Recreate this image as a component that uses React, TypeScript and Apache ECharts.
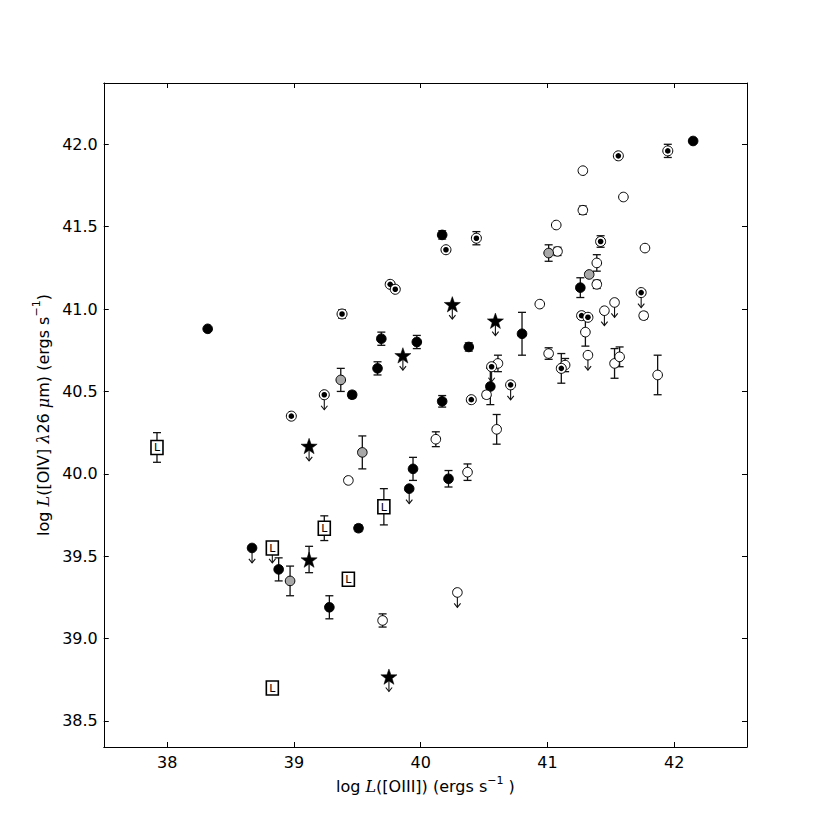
import React, { useEffect, useRef } from "react";
import * as echarts from "echarts";

// Each point: [log L([OIII]), log L([OIV]), symmetric error (dex), upper limit flag]
const filledPts: number[][] = [
  [38.32, 40.88, 0, 0],
  [40.17, 41.45, 0.025, 0],
  [39.69, 40.82, 0.04, 0],
  [39.97, 40.8, 0.04, 0],
  [39.66, 40.64, 0.04, 0],
  [39.46, 40.48, 0.02, 0],
  [40.38, 40.77, 0.025, 0],
  [40.8, 40.85, 0.13, 0],
  [40.55, 40.53, 0.11, 0],
  [40.17, 40.44, 0.035, 0],
  [41.26, 41.13, 0.06, 0],
  [42.15, 42.02, 0.01, 0],
  [39.94, 40.03, 0.07, 0],
  [39.91, 39.91, 0, 1],
  [40.22, 39.97, 0.05, 0],
  [39.51, 39.67, 0.02, 0],
  [38.67, 39.55, 0, 1],
  [38.88, 39.42, 0.07, 0],
  [39.28, 39.19, 0.07, 0],
];

const openPts: number[][] = [
  [41.07, 41.51, 0, 0],
  [41.08, 41.35, 0.025, 0],
  [40.94, 41.03, 0, 0],
  [41.28, 41.84, 0, 0],
  [41.6, 41.68, 0, 0],
  [41.28, 41.6, 0.025, 0],
  [41.77, 41.37, 0, 0],
  [41.39, 41.28, 0.05, 0],
  [41.39, 41.15, 0.025, 0],
  [41.53, 41.04, 0, 1],
  [41.45, 40.99, 0, 1],
  [41.76, 40.96, 0.02, 0],
  [41.3, 40.86, 0.085, 0],
  [41.32, 40.72, 0, 1],
  [41.53, 40.67, 0.09, 0],
  [41.57, 40.71, 0.06, 0],
  [41.87, 40.6, 0.12, 0],
  [41.14, 40.66, 0.04, 0],
  [41.01, 40.73, 0.035, 0],
  [40.61, 40.67, 0.05, 0],
  [40.52, 40.48, 0.02, 0],
  [40.6, 40.27, 0.09, 0],
  [40.12, 40.21, 0.045, 0],
  [39.43, 39.96, 0, 0],
  [40.37, 40.01, 0.05, 0],
  [39.7, 39.11, 0.04, 0],
  [40.29, 39.28, 0, 1],
];

const dottedPts: number[][] = [
  [39.38, 40.97, 0.025, 0],
  [39.76, 41.15, 0, 0],
  [39.8, 41.12, 0, 0],
  [40.2, 41.36, 0, 0],
  [40.44, 41.43, 0.04, 0],
  [41.95, 41.96, 0.04, 0],
  [41.56, 41.93, 0.01, 0],
  [41.42, 41.41, 0.035, 0],
  [41.74, 41.1, 0, 1],
  [41.27, 40.96, 0.015, 0],
  [41.32, 40.95, 0.015, 0],
  [41.11, 40.64, 0.09, 0],
  [40.56, 40.65, 0, 1],
  [40.71, 40.54, 0, 1],
  [40.4, 40.45, 0.015, 0],
  [38.98, 40.35, 0, 0],
  [39.24, 40.48, 0, 1],
];

const grayPts: number[][] = [
  [41.01, 41.34, 0.05, 0],
  [41.33, 41.21, 0, 0],
  [39.37, 40.57, 0.07, 0],
  [39.54, 40.13, 0.1, 0],
  [38.97, 39.35, 0.09, 0],
];

const starPts: number[][] = [
  [40.25, 41.03, 0, 1],
  [40.59, 40.93, 0, 1],
  [39.86, 40.72, 0, 1],
  [39.12, 40.17, 0, 1],
  [39.12, 39.48, 0.08, 0],
  [39.75, 38.77, 0, 1],
];

const boxLPts: number[][] = [
  [37.92, 40.16, 0.09, 0],
  [39.71, 39.8, 0.11, 0],
  [39.24, 39.67, 0.075, 0],
  [38.83, 39.55, 0, 1],
  [39.43, 39.36, 0, 0],
  [38.83, 38.7, 0, 0],
];

const xTicks = [38, 39, 40, 41, 42];
const yTicks = [38.5, 39.0, 39.5, 40.0, 40.5, 41.0, 41.5, 42.0];

const X_MIN = 37.5;
const X_MAX = 42.575;
const Y_MIN = 38.342;
const Y_MAX = 42.372;

const FONT = "DejaVu Sans";
const INK = "#000";

function barsRender(_params: any, api: any) {
  const x = api.value(0);
  const y = api.value(1);
  const err = api.value(2);
  const lim = api.value(3);
  const c = api.coord([x, y]);
  const st = { stroke: "#111", lineWidth: 1.3, fill: "none" };
  const children: any[] = [];
  if (err > 0) {
    const t = api.coord([x, y + err]);
    const b = api.coord([x, y - err]);
    children.push({ type: "line", shape: { x1: c[0], y1: t[1], x2: c[0], y2: b[1] }, style: st });
    children.push({ type: "line", shape: { x1: c[0] - 4, y1: t[1], x2: c[0] + 4, y2: t[1] }, style: st });
    children.push({ type: "line", shape: { x1: c[0] - 4, y1: b[1], x2: c[0] + 4, y2: b[1] }, style: st });
  }
  if (lim) {
    const st2 = { stroke: "#111", lineWidth: 1.1, fill: "none" };
    children.push({ type: "line", shape: { x1: c[0], y1: c[1], x2: c[0], y2: c[1] + 15 }, style: st2 });
    children.push({
      type: "polyline",
      shape: { points: [[c[0] - 3.2, c[1] + 11], [c[0], c[1] + 15], [c[0] + 3.2, c[1] + 11]] },
      style: st2,
    });
  }
  return { type: "group", children };
}

function markerRender(kind: string) {
  return function (_params: any, api: any) {
    const c = api.coord([api.value(0), api.value(1)]);
    const cx = c[0];
    const cy = c[1];
    const r = 4.8;
    if (kind === "filled") {
      return { type: "circle", shape: { cx, cy, r }, style: { fill: INK, stroke: INK, lineWidth: 1 } };
    }
    if (kind === "open") {
      return { type: "circle", shape: { cx, cy, r }, style: { fill: "#fff", stroke: INK, lineWidth: 1 } };
    }
    if (kind === "gray") {
      return { type: "circle", shape: { cx, cy, r }, style: { fill: "#a8a8a8", stroke: INK, lineWidth: 1 } };
    }
    if (kind === "dotted") {
      return {
        type: "group",
        children: [
          { type: "circle", shape: { cx, cy, r: 5 }, style: { fill: "#fff", stroke: INK, lineWidth: 1 } },
          { type: "circle", shape: { cx, cy, r: 2.8 }, style: { fill: INK, stroke: "none" } },
        ],
      };
    }
    if (kind === "star") {
      const pts: number[][] = [];
      const R = 8.5;
      const ri = R * 0.4;
      for (let i = 0; i < 10; i++) {
        const a = -Math.PI / 2 + (i * Math.PI) / 5;
        const rr = i % 2 === 0 ? R : ri;
        pts.push([cx + rr * Math.cos(a), cy + 1 + rr * Math.sin(a)]);
      }
      return { type: "polygon", shape: { points: pts }, style: { fill: INK, stroke: INK, lineWidth: 0.5 } };
    }
    // boxed L
    return {
      type: "group",
      children: [
        {
          type: "rect",
          shape: { x: cx - 6, y: cy - 7, width: 12, height: 14 },
          style: { fill: "#fff", stroke: INK, lineWidth: 1.6 },
        },
        {
          type: "text",
          x: cx,
          y: cy + 0.5,
          style: {
            text: "L",
            align: "center",
            verticalAlign: "middle",
            fontSize: 11,
            fontFamily: FONT,
            fill: INK,
          },
        },
      ],
    };
  };
}

const groups: [string, number[][]][] = [
  ["filled", filledPts],
  ["open", openPts],
  ["dotted", dottedPts],
  ["gray", grayPts],
  ["star", starPts],
  ["boxL", boxLPts],
];

function isTick(v: number, ticks: number[]) {
  return ticks.some((t) => Math.abs(t - v) < 1e-6);
}

export default function App() {
  const ref = useRef<HTMLDivElement>(null);
  useEffect(() => {
    if (!ref.current) return;
    const chart = echarts.init(ref.current, null, { renderer: "svg" });

    const series: any[] = [];
    groups.forEach(([kind, pts]) => {
      series.push({
        type: "custom",
        name: kind + "-bars",
        xAxisIndex: 0,
        yAxisIndex: 0,
        data: pts,
        encode: { x: 0, y: 1 },
        z: 2,
        renderItem: barsRender,
        silent: true,
      });
    });
    groups.forEach(([kind, pts]) => {
      series.push({
        type: "custom",
        name: kind,
        xAxisIndex: 0,
        yAxisIndex: 0,
        data: pts,
        encode: { x: 0, y: 1 },
        z: 3,
        renderItem: markerRender(kind),
        silent: true,
      });
    });

    const axisLine = { show: true, lineStyle: { color: INK, width: 1 } };
    const axisTick = { show: true, inside: true, length: 5, lineStyle: { color: INK, width: 1 } };

    const nameRich = {
      n: { fontFamily: FONT, fontSize: 16, color: INK, lineHeight: 20, verticalAlign: "bottom" },
      i: {
        fontFamily: "DejaVu Serif",
        fontStyle: "italic",
        fontSize: 16,
        color: INK,
        lineHeight: 20,
        verticalAlign: "bottom",
      },
      s: { fontFamily: FONT, fontSize: 11, color: INK, lineHeight: 11, verticalAlign: "top" },
    };

    const option: any = {
      animation: false,
      backgroundColor: "#fff",
      grid: { left: 103.75, right: 83, top: 83, bottom: 83, containLabel: false },
      xAxis: [
        {
          type: "value",
          position: "bottom",
          min: X_MIN,
          max: X_MAX,
          minInterval: 1,
          maxInterval: 1,
          axisLine,
          axisTick,
          splitLine: { show: false },
          axisLabel: {
            color: INK,
            fontSize: 16,
            fontFamily: FONT,
            margin: 7,
            showMinLabel: false,
            showMaxLabel: false,
            formatter: (v: number) => (isTick(v, xTicks) ? String(Math.round(v)) : ""),
          },
          name: "{n|log }{i|L}{n|([OIII]) (ergs s}{s|−1}{n| )}",
          nameLocation: "middle",
          nameGap: 25,
          nameTextStyle: { rich: nameRich },
        },
        {
          type: "value",
          position: "top",
          min: X_MIN,
          max: X_MAX,
          minInterval: 1,
          maxInterval: 1,
          axisLine,
          axisTick,
          splitLine: { show: false },
          axisLabel: { show: false },
        },
      ],
      yAxis: [
        {
          type: "value",
          position: "left",
          min: Y_MIN,
          max: Y_MAX,
          minInterval: 0.5,
          maxInterval: 0.5,
          axisLine,
          axisTick,
          splitLine: { show: false },
          axisLabel: {
            color: INK,
            fontSize: 16,
            fontFamily: FONT,
            margin: 6,
            showMinLabel: false,
            showMaxLabel: false,
            formatter: (v: number) => (isTick(v, yTicks) ? v.toFixed(1) : ""),
          },
          name: "{n|log }{i|L}{n|([OIV] }{i|λ}{n|26 }{i|μ}{n|m) (ergs s}{s|−1}{n|)}",
          nameLocation: "middle",
          nameGap: 50,
          nameRotate: 90,
          nameTextStyle: { rich: nameRich },
        },
        {
          type: "value",
          position: "right",
          min: Y_MIN,
          max: Y_MAX,
          minInterval: 0.5,
          maxInterval: 0.5,
          axisLine,
          axisTick,
          splitLine: { show: false },
          axisLabel: { show: false },
        },
      ],
      series,
    };

    chart.setOption(option);
    return () => chart.dispose();
  }, []);

  return (
    <div
      ref={ref}
      style={{ position: "absolute", left: 0, top: 0, width: 830, height: 830, background: "#fff" }}
    />
  );
}
